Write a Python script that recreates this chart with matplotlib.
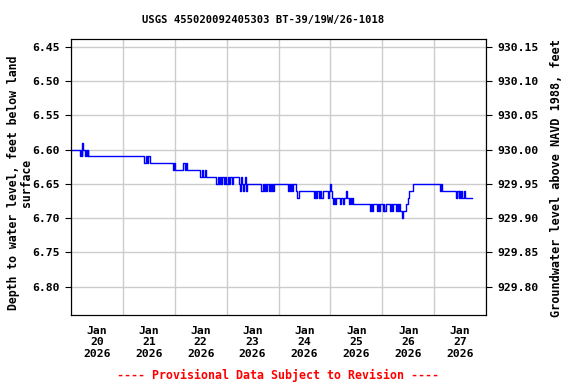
import matplotlib as mpl
mpl.use('Agg')
import matplotlib.pyplot as plt
import matplotlib.dates as mdates
from datetime import datetime, timedelta

# hours after 2026-01-20 00:00 and depth below land surface (ft), step values
hrs = [0.5, 4.0, 4.5, 5.0, 5.3, 5.6, 6.3, 6.7, 7.4, 7.7, 7.9,
       33.9, 34.6, 35.3, 35.8, 36.6,
       47.0, 47.5, 48.0, 51.9, 52.6, 53.1, 53.8,
       59.8, 60.5, 61.2, 61.8, 62.6,
       67.3, 67.8, 68.3, 68.8, 69.5, 70.0, 70.7, 71.2, 71.9, 72.4, 73.1, 73.6, 74.3, 75.1,
       77.5, 78.0, 78.5, 79.0, 79.6, 80.1, 80.6, 81.0, 81.6,
       88.1, 88.6, 89.2, 89.7, 90.3, 90.8, 91.4, 91.9, 92.5, 93.0, 93.6, 94.1,
       100.2, 100.7, 101.3, 101.8, 102.4, 102.9, 103.9, 104.4, 105.3,
       112.2, 113.0, 113.5, 114.0, 114.6, 115.3, 115.8, 116.4,
       118.9, 119.4, 119.9, 120.3, 120.7, 121.2, 121.7, 122.3, 122.8,
       124.5, 125.0, 125.6, 126.1, 127.3, 127.8, 128.4, 128.9, 129.5, 130.0, 130.3,
       138.3, 138.7, 139.1, 139.5, 140.0, 141.5, 141.9, 142.3, 142.8, 143.3,
       144.2, 144.6, 145.0, 145.5, 146.1, 147.5, 147.9, 148.4, 148.9,
       150.3, 150.7, 151.1, 151.6, 152.0, 152.6, 153.2, 153.6,
       155.2, 155.8, 156.4, 158.3,
       170.7, 171.0, 171.4,
       178.1, 178.6, 179.3, 179.7, 180.1, 180.6, 181.1, 181.6, 182.1, 185.5]
depth = [6.60, 6.61, 6.60, 6.61, 6.59, 6.60, 6.61, 6.60, 6.61, 6.60, 6.61,
         6.62, 6.61, 6.62, 6.61, 6.62,
         6.63, 6.62, 6.63, 6.62, 6.63, 6.62, 6.63,
         6.64, 6.63, 6.64, 6.63, 6.64,
         6.65, 6.64, 6.65, 6.64, 6.65, 6.64, 6.65, 6.64, 6.65, 6.64, 6.65, 6.64, 6.65, 6.64,
         6.65, 6.66, 6.64, 6.65, 6.66, 6.65, 6.64, 6.66, 6.65,
         6.66, 6.65, 6.66, 6.65, 6.66, 6.65, 6.66, 6.65, 6.66, 6.65, 6.66, 6.65,
         6.66, 6.65, 6.66, 6.65, 6.66, 6.65, 6.66, 6.67, 6.66,
         6.67, 6.66, 6.67, 6.66, 6.67, 6.66, 6.67, 6.66,
         6.67, 6.66, 6.65, 6.66, 6.67, 6.68, 6.67, 6.68, 6.67,
         6.68, 6.67, 6.68, 6.67, 6.66, 6.67, 6.68, 6.67, 6.68, 6.67, 6.68,
         6.69, 6.68, 6.69, 6.68, 6.68, 6.69, 6.68, 6.69, 6.68, 6.68,
         6.69, 6.68, 6.69, 6.68, 6.68, 6.69, 6.68, 6.69, 6.68,
         6.69, 6.68, 6.69, 6.68, 6.69, 6.69, 6.70, 6.69,
         6.68, 6.67, 6.66, 6.65,
         6.66, 6.65, 6.66,
         6.67, 6.66, 6.67, 6.66, 6.67, 6.66, 6.67, 6.66, 6.67, 6.67]

t0 = datetime(2026, 1, 20)
times = [t0 + timedelta(hours=h) for h in hrs]
datum = 936.60  # land surface altitude, NAVD 1988

left_ticks = [6.45, 6.50, 6.55, 6.60, 6.65, 6.70, 6.75, 6.80]
right_ticks = [930.15, 930.10, 930.05, 930.00, 929.95, 929.90, 929.85, 929.80]
day_labels = ['Jan\n%d\n2026' % d for d in range(20, 28)]

font = 'DejaVu Sans Mono'
fig = plt.figure(figsize=(5.76, 3.84), dpi=100)
ax = fig.add_axes([0.1233, 0.1797, 0.7205, 0.7187])

ax.plot(times, depth, color='#0000ff', lw=1.0, drawstyle='steps-post')

ax.set_xlim(t0, t0 + timedelta(days=8))
ax.set_ylim(6.8413, 6.4388)
ax.set_yticks(left_ticks)
ax.set_yticklabels(['%.2f' % v for v in left_ticks], family=font, weight='bold', fontsize=8.2)

ax.xaxis.set_major_locator(mdates.DayLocator())
ax.xaxis.set_major_formatter(mpl.ticker.NullFormatter())
ax.set_xticks([t0 + timedelta(days=d, hours=12) for d in range(8)], minor=True)
ax.set_xticklabels(day_labels, minor=True, family=font, weight='bold', fontsize=8.2, linespacing=1.15)
ax.tick_params(axis='x', which='major', length=0)
ax.tick_params(axis='x', which='minor', length=0, pad=8)
ax.tick_params(axis='y', length=4, pad=4)
ax.grid(True, which='major', color='#cccccc', lw=1)
ax.set_axisbelow(True)

ax2 = ax.twinx()
ax2.set_ylim(datum - 6.8413, datum - 6.4388)
ax2.set_yticks(right_ticks)
ax2.set_yticklabels(['%.2f' % v for v in right_ticks], family=font, weight='bold', fontsize=8.2)
ax2.tick_params(axis='y', length=4, pad=4)

fig.text(0.457, 0.948, 'USGS 455020092405303 BT-39/19W/26-1018', ha='center', va='center',
         family=font, weight='bold', fontsize=7.6)
fig.text(0.034, 0.524, 'Depth to water level, feet below land\nsurface', rotation=90,
         ha='center', va='center', multialignment='center', family=font, weight='bold',
         fontsize=8.3, linespacing=1.0)
fig.text(0.967, 0.535, 'Groundwater level above NAVD 1988, feet', rotation=90,
         ha='center', va='center', family=font, weight='bold', fontsize=8.6)
fig.text(0.482, 0.023, '---- Provisional Data Subject to Revision ----', ha='center', va='center',
         family=font, weight='bold', fontsize=8.4, color='red')

plt.savefig('out.png', dpi=100, facecolor='w')
